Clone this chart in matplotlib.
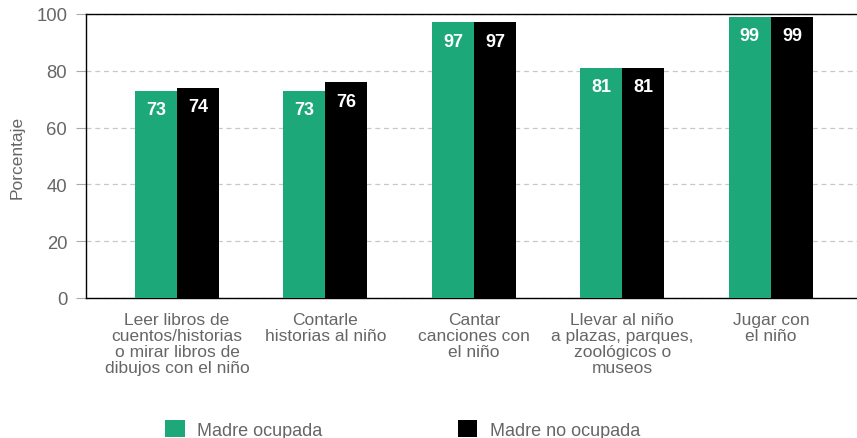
import numpy as np
import matplotlib
matplotlib.use("Agg")
import matplotlib.pyplot as plt
from matplotlib.patches import Patch

plt.rcParams['font.family'] = ['Liberation Sans', 'DejaVu Sans']

categories = [
    "Leer libros de\ncuentos/historias\no mirar libros de\ndibujos con el niño",
    "Contarle\nhistorias al niño",
    "Cantar\ncanciones con\nel niño",
    "Llevar al niño\na plazas, parques,\nzoológicos o\nmuseos",
    "Jugar con\nel niño",
]
ocupada = [73, 73, 97, 81, 99]
no_ocupada = [74, 76, 97, 81, 99]
series_names = ["Madre ocupada", "Madre no ocupada"]

green = "#1da87a"
gray_text = "#666666"

fig = plt.figure(figsize=(8.57, 4.39), dpi=100)
ax = fig.add_axes([0.1003, 0.319, 0.8997, 0.647])

x = np.arange(len(categories))
w = 0.283
b1 = ax.bar(x - w / 2, ocupada, w, color=green, zorder=3)
b2 = ax.bar(x + w / 2, no_ocupada, w, color="black", zorder=3)

for bars in (b1, b2):
    for rect in bars:
        h = rect.get_height()
        ax.annotate(f"{h:d}", (rect.get_x() + rect.get_width() / 2, h),
                    xytext=(0, -7.5), textcoords="offset points",
                    ha="center", va="top", color="white",
                    fontsize=13, fontweight="bold", zorder=4)

ax.set_xlim(-0.613, 4.58)
ax.set_ylim(0, 100)
ax.set_yticks(range(0, 101, 20))
ax.yaxis.grid(True, linestyle=(0, (4, 3)), color="#c8c8c8", linewidth=0.9, zorder=0)
ax.set_axisbelow(True)

ax.set_xticks(x)
ax.set_xticklabels(categories, fontsize=12.5, color=gray_text, linespacing=1.1)
ax.tick_params(axis="x", length=0, pad=10)
ax.tick_params(axis="y", length=7, color="#aaaaaa", labelsize=13.3,
               labelcolor=gray_text, pad=6.5)

ax.spines["right"].set_visible(False)
for s in ("top", "bottom", "left"):
    ax.spines[s].set_color("black")
    ax.spines[s].set_linewidth(1.0)

ax.set_ylabel("Porcentaje", fontsize=12.5, color=gray_text, labelpad=8)

handles = [Patch(facecolor=green), Patch(facecolor="black")]
fig.legend(handles, series_names, loc="upper left",
           bbox_to_anchor=(0.1925, 0.041), ncol=2, frameon=False,
           fontsize=13, labelcolor=gray_text, handlelength=1.1,
           handleheight=1.1, handletextpad=0.67, columnspacing=7.5,
           borderaxespad=0, borderpad=0)

fig.savefig("out.png", dpi=100)
